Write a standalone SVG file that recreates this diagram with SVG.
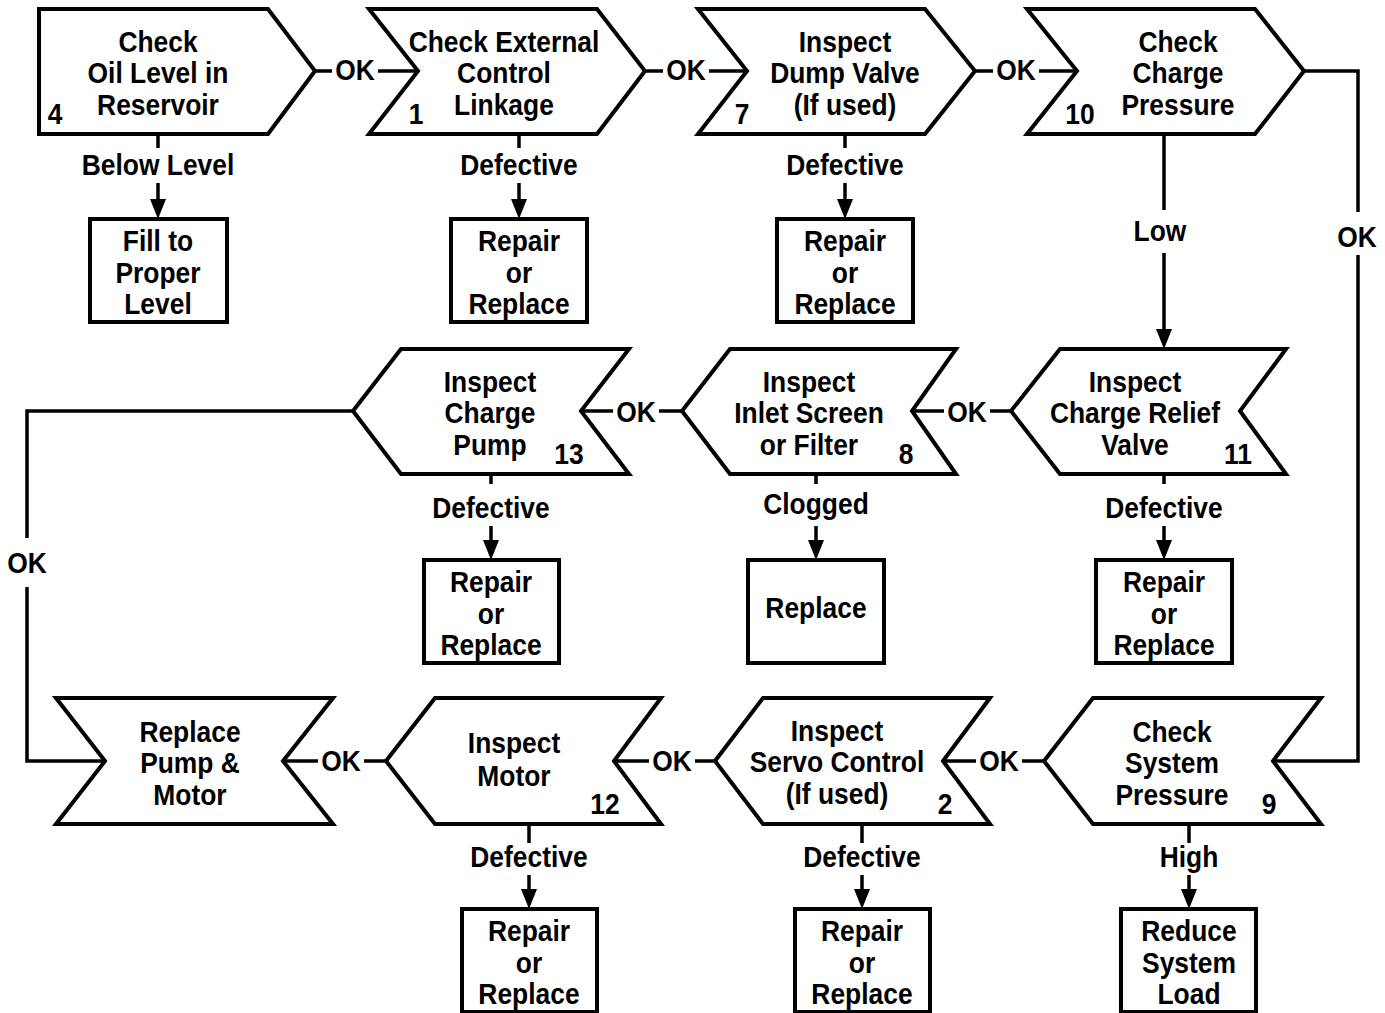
<svg xmlns="http://www.w3.org/2000/svg" width="1385" height="1013" viewBox="0 0 1385 1013">
<style>
.shape{fill:#fff;stroke:#000;stroke-width:4;stroke-linejoin:miter}
.conn{fill:none;stroke:#000;stroke-width:3.5}
.t{font-family:"Liberation Sans",Arial,sans-serif;font-weight:bold;font-size:30px;text-anchor:middle;fill:#000}
</style>
<defs>
<marker id="ah" viewBox="0 0 20 16" refX="10" refY="8" markerWidth="20" markerHeight="16" markerUnits="userSpaceOnUse" orient="auto">
<path d="M0,0 L20,8 L0,16 Z" fill="#000"/>
</marker>
</defs>
<rect width="1385" height="1013" fill="#fff"/>
<g id="connectors">
<path class="conn" d="M315,71H332M378,71H418"/>
<path class="conn" d="M645,71H663M709,71H747"/>
<path class="conn" d="M975,71H993M1039,71H1077"/>
<path class="conn" d="M1304,71H1358V212M1358,255V761H1273"/>
<path class="conn" d="M1164,134V210"/>
<path class="conn" d="M1164,253V339" marker-end="url(#ah)"/>
<path class="conn" d="M158,134V148"/>
<path class="conn" d="M158,183V209" marker-end="url(#ah)"/>
<path class="conn" d="M519,134V148"/>
<path class="conn" d="M519,183V209" marker-end="url(#ah)"/>
<path class="conn" d="M845,134V148"/>
<path class="conn" d="M845,183V209" marker-end="url(#ah)"/>
<path class="conn" d="M1011,411H990M944,411H912"/>
<path class="conn" d="M682,411H659M613,411H581"/>
<path class="conn" d="M353,411H27V538M27,587V761H105"/>
<path class="conn" d="M491,474V484"/>
<path class="conn" d="M491,526V550" marker-end="url(#ah)"/>
<path class="conn" d="M816,474V484"/>
<path class="conn" d="M816,526V550" marker-end="url(#ah)"/>
<path class="conn" d="M1164,474V484"/>
<path class="conn" d="M1164,526V550" marker-end="url(#ah)"/>
<path class="conn" d="M283,761H318M364,761H386"/>
<path class="conn" d="M614,761H649M695,761H715"/>
<path class="conn" d="M943,761H976M1022,761H1044"/>
<path class="conn" d="M529,824V843"/>
<path class="conn" d="M529,875V899" marker-end="url(#ah)"/>
<path class="conn" d="M862,824V843"/>
<path class="conn" d="M862,875V899" marker-end="url(#ah)"/>
<path class="conn" d="M1189,824V843"/>
<path class="conn" d="M1189,875V899" marker-end="url(#ah)"/>
<text class="t" x="355" y="80" transform="matrix(.88 0 0 1 42.6 0)">OK</text>
<text class="t" x="686" y="80" transform="matrix(.88 0 0 1 82.32 0)">OK</text>
<text class="t" x="1016" y="80" transform="matrix(.88 0 0 1 121.92 0)">OK</text>
<text class="t" x="1160" y="241" transform="matrix(.88 0 0 1 139.2 0)">Low</text>
<text class="t" x="1357" y="247" transform="matrix(.88 0 0 1 162.84 0)">OK</text>
<text class="t" x="158" y="175" transform="matrix(.88 0 0 1 18.96 0)">Below Level</text>
<text class="t" x="519" y="175" transform="matrix(.88 0 0 1 62.28 0)">Defective</text>
<text class="t" x="845" y="175" transform="matrix(.88 0 0 1 101.4 0)">Defective</text>
<text class="t" x="636" y="422" transform="matrix(.88 0 0 1 76.32 0)">OK</text>
<text class="t" x="967" y="422" transform="matrix(.88 0 0 1 116.04 0)">OK</text>
<text class="t" x="27" y="573" transform="matrix(.88 0 0 1 3.24 0)">OK</text>
<text class="t" x="491" y="518" transform="matrix(.88 0 0 1 58.92 0)">Defective</text>
<text class="t" x="816" y="514" transform="matrix(.88 0 0 1 97.92 0)">Clogged</text>
<text class="t" x="1164" y="518" transform="matrix(.88 0 0 1 139.68 0)">Defective</text>
<text class="t" x="341" y="771" transform="matrix(.88 0 0 1 40.92 0)">OK</text>
<text class="t" x="672" y="771" transform="matrix(.88 0 0 1 80.64 0)">OK</text>
<text class="t" x="999" y="771" transform="matrix(.88 0 0 1 119.88 0)">OK</text>
<text class="t" x="529" y="867" transform="matrix(.88 0 0 1 63.48 0)">Defective</text>
<text class="t" x="862" y="867" transform="matrix(.88 0 0 1 103.44 0)">Defective</text>
<text class="t" x="1189" y="867" transform="matrix(.88 0 0 1 142.68 0)">High</text>
</g>
<g id="n4">
<polygon class="shape" points="39,9 268,9 315,71 268,134 39,134"/>
<text class="t" transform="matrix(.88 0 0 1 18.96 0)"><tspan x="158" y="52">Check</tspan><tspan x="158" y="83">Oil Level in</tspan><tspan x="158" y="115">Reservoir</tspan></text>
<text class="t" x="55" y="124" transform="matrix(.88 0 0 1 6.6 0)">4</text>
</g>
<g id="n1">
<polygon class="shape" points="369,9 597,9 645,71 597,134 369,134 418,71"/>
<text class="t" transform="matrix(.88 0 0 1 60.48 0)"><tspan x="504" y="52">Check External</tspan><tspan x="504" y="83">Control</tspan><tspan x="504" y="115">Linkage</tspan></text>
<text class="t" x="416" y="124" transform="matrix(.88 0 0 1 49.92 0)">1</text>
</g>
<g id="n7">
<polygon class="shape" points="698,9 925,9 975,71 925,134 698,134 747,71"/>
<text class="t" transform="matrix(.88 0 0 1 101.4 0)"><tspan x="845" y="52">Inspect</tspan><tspan x="845" y="83">Dump Valve</tspan><tspan x="845" y="115">(If used)</tspan></text>
<text class="t" x="742" y="124" transform="matrix(.88 0 0 1 89.04 0)">7</text>
</g>
<g id="n10">
<polygon class="shape" points="1027,9 1255,9 1304,71 1255,134 1027,134 1077,71"/>
<text class="t" transform="matrix(.88 0 0 1 141.36 0)"><tspan x="1178" y="52">Check</tspan><tspan x="1178" y="83">Charge</tspan><tspan x="1178" y="115">Pressure</tspan></text>
<text class="t" x="1080" y="124" transform="matrix(.88 0 0 1 129.6 0)">10</text>
</g>
<g id="b4">
<rect class="shape" x="90" y="219" width="137" height="103"/>
<text class="t" transform="matrix(.88 0 0 1 18.96 0)"><tspan x="158" y="251">Fill to</tspan><tspan x="158" y="283">Proper</tspan><tspan x="158" y="314">Level</tspan></text>
</g>
<g id="b1">
<rect class="shape" x="451" y="219" width="136" height="103"/>
<text class="t" transform="matrix(.88 0 0 1 62.28 0)"><tspan x="519" y="251">Repair</tspan><tspan x="519" y="283">or</tspan><tspan x="519" y="314">Replace</tspan></text>
</g>
<g id="b7">
<rect class="shape" x="777" y="219" width="136" height="103"/>
<text class="t" transform="matrix(.88 0 0 1 101.4 0)"><tspan x="845" y="251">Repair</tspan><tspan x="845" y="283">or</tspan><tspan x="845" y="314">Replace</tspan></text>
</g>
<g id="n13">
<polygon class="shape" points="353,411 401,349 629,349 581,411 629,474 401,474"/>
<text class="t" transform="matrix(.88 0 0 1 58.8 0)"><tspan x="490" y="392">Inspect</tspan><tspan x="490" y="423">Charge</tspan><tspan x="490" y="455">Pump</tspan></text>
<text class="t" x="569" y="464" transform="matrix(.88 0 0 1 68.28 0)">13</text>
</g>
<g id="n8">
<polygon class="shape" points="682,411 730,349 956,349 912,411 956,474 730,474"/>
<text class="t" transform="matrix(.88 0 0 1 97.08 0)"><tspan x="809" y="392">Inspect</tspan><tspan x="809" y="423">Inlet Screen</tspan><tspan x="809" y="455">or Filter</tspan></text>
<text class="t" x="906" y="464" transform="matrix(.88 0 0 1 108.72 0)">8</text>
</g>
<g id="n11">
<polygon class="shape" points="1011,411 1060,349 1286,349 1240,411 1286,474 1060,474"/>
<text class="t" transform="matrix(.88 0 0 1 136.2 0)"><tspan x="1135" y="392">Inspect</tspan><tspan x="1135" y="423">Charge Relief</tspan><tspan x="1135" y="455">Valve</tspan></text>
<text class="t" x="1238" y="464" transform="matrix(.88 0 0 1 148.56 0)">11</text>
</g>
<g id="b13">
<rect class="shape" x="424" y="560" width="135" height="103"/>
<text class="t" transform="matrix(.88 0 0 1 58.92 0)"><tspan x="491" y="592">Repair</tspan><tspan x="491" y="624">or</tspan><tspan x="491" y="655">Replace</tspan></text>
</g>
<g id="b8">
<rect class="shape" x="748" y="560" width="136" height="103"/>
<text class="t" x="816" y="618" transform="matrix(.88 0 0 1 97.92 0)">Replace</text>
</g>
<g id="b11">
<rect class="shape" x="1096" y="560" width="136" height="103"/>
<text class="t" transform="matrix(.88 0 0 1 139.68 0)"><tspan x="1164" y="592">Repair</tspan><tspan x="1164" y="624">or</tspan><tspan x="1164" y="655">Replace</tspan></text>
</g>
<g id="nReplace">
<polygon class="shape" points="56,698 333,698 283,761 333,824 56,824 105,761"/>
<text class="t" transform="matrix(.88 0 0 1 22.8 0)"><tspan x="190" y="742">Replace</tspan><tspan x="190" y="773">Pump &amp;</tspan><tspan x="190" y="805">Motor</tspan></text>
</g>
<g id="n12">
<polygon class="shape" points="386,761 435,698 661,698 614,761 661,824 435,824"/>
<text class="t" transform="matrix(.88 0 0 1 61.68 0)"><tspan x="514" y="753">Inspect</tspan><tspan x="514" y="786">Motor</tspan></text>
<text class="t" x="605" y="814" transform="matrix(.88 0 0 1 72.6 0)">12</text>
</g>
<g id="n2">
<polygon class="shape" points="715,761 763,698 990,698 943,761 990,824 763,824"/>
<text class="t" transform="matrix(.88 0 0 1 100.44 0)"><tspan x="837" y="741">Inspect</tspan><tspan x="837" y="772">Servo Control</tspan><tspan x="837" y="804">(If used)</tspan></text>
<text class="t" x="945" y="814" transform="matrix(.88 0 0 1 113.4 0)">2</text>
</g>
<g id="n9">
<polygon class="shape" points="1044,761 1093,698 1321,698 1273,761 1321,824 1093,824"/>
<text class="t" transform="matrix(.88 0 0 1 140.64 0)"><tspan x="1172" y="742">Check</tspan><tspan x="1172" y="773">System</tspan><tspan x="1172" y="805">Pressure</tspan></text>
<text class="t" x="1269" y="814" transform="matrix(.88 0 0 1 152.28 0)">9</text>
</g>
<g id="b12">
<rect class="shape" x="462" y="909" width="135" height="103"/>
<text class="t" transform="matrix(.88 0 0 1 63.48 0)"><tspan x="529" y="941">Repair</tspan><tspan x="529" y="973">or</tspan><tspan x="529" y="1004">Replace</tspan></text>
</g>
<g id="b2">
<rect class="shape" x="795" y="909" width="135" height="103"/>
<text class="t" transform="matrix(.88 0 0 1 103.44 0)"><tspan x="862" y="941">Repair</tspan><tspan x="862" y="973">or</tspan><tspan x="862" y="1004">Replace</tspan></text>
</g>
<g id="b9">
<rect class="shape" x="1121" y="909" width="135" height="103"/>
<text class="t" transform="matrix(.88 0 0 1 142.68 0)"><tspan x="1189" y="941">Reduce</tspan><tspan x="1189" y="973">System</tspan><tspan x="1189" y="1004">Load</tspan></text>
</g>
</svg>
